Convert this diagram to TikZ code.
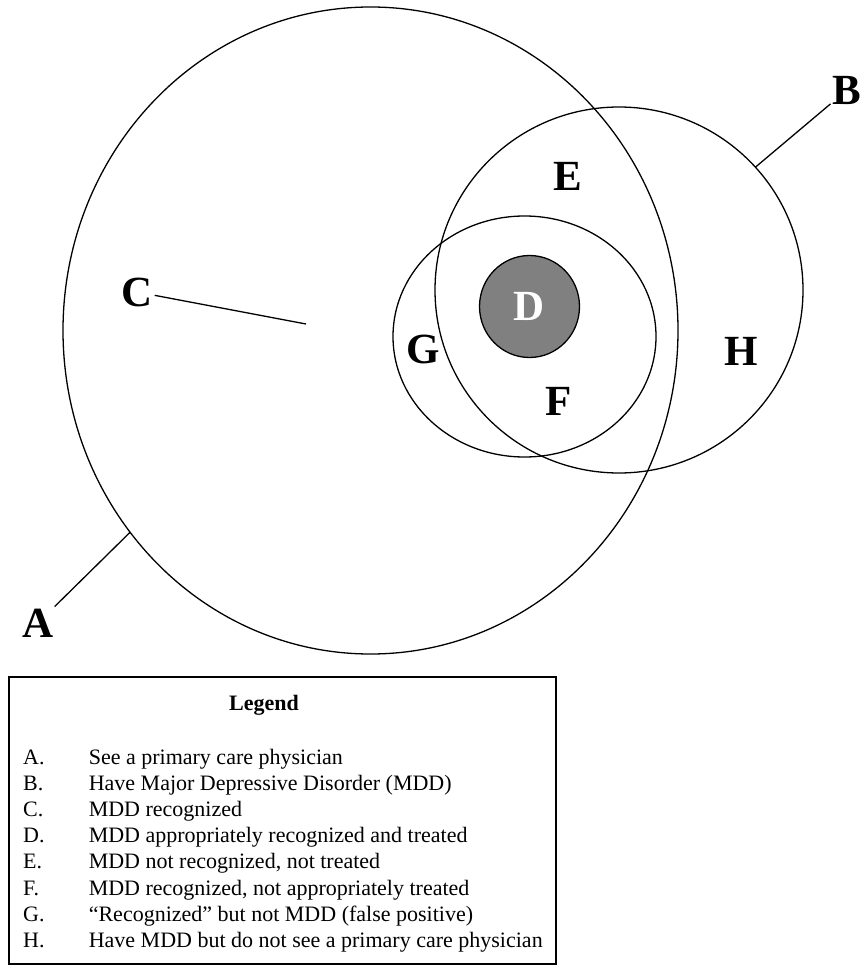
\documentclass[tikz,border=0pt]{standalone}
\usepackage{fontspec}
\setmainfont{Liberation Serif}
\usepackage{tikz}
\usetikzlibrary{positioning}
\usetikzlibrary{shapes.geometric}
\definecolor{dfill}{gray}{0.5}
\tikzset{ring/.style={draw, ellipse, line width=1.3pt, inner sep=0pt, outer sep=0pt}}
\tikzset{region/.style={font=\fontsize{43}{43}\selectfont\bfseries, inner sep=2pt}}
\tikzset{lead/.style={line width=1.3pt}}
\tikzset{entry/.style={font=\fontsize{22}{26}\selectfont, anchor=base west, inner sep=0pt}}

\begin{document}
\begin{tikzpicture}[x=1pt,y=-1pt]
\useasboundingbox (0,0) rectangle (860,965);
\node[ring, fill=dfill, minimum width=100pt, minimum height=102pt, text=white] (circD) at (529.5,306.5) {};
\node[ring, minimum width=615pt, minimum height=647pt] (circA) at (370.5,330.5) {};
\node[ring, minimum width=368pt, minimum height=366pt] (circB) at (619,290) {};
\node[ring, minimum width=263pt, minimum height=241pt] (circG) at (524.5,336.5) {};
\node[region, text=white] (labD) at (circD) {D};
\node[region] (labA) at (38,623) {A};
\node[region] (labB) at (847,90) {B};
\node[region] (labC) at (137,292) {C};
\node[region] (labE) at (568,176) {E};
\node[region] (labF) at (559,401) {F};
\node[region] (labG) at (423,349) {G};
\node[region] (labH) at (741,351) {H};
\coordinate (cEnd) at (306,324);
\draw[lead] (labA) -- (circA.220);
\draw[lead] (labB) -- (circB.42);
\draw[lead] (labC) -- (cEnd);
% legend
\draw[line width=1.2pt] (9,677) rectangle (556,964);
\node[font=\fontsize{22}{26}\selectfont\bfseries, anchor=base] (legend) at (264,710) {Legend};
\foreach \l/\t [count=\i from 0] in {A/See a primary care physician,
  B/Have Major Depressive Disorder (MDD),
  C/MDD recognized,
  D/MDD appropriately recognized and treated,
  E/{MDD not recognized, not treated},
  F/{MDD recognized, not appropriately treated},
  G/{``Recognized'' but not MDD (false positive)},
  H/Have MDD but do not see a primary care physician} {
\node[entry] (key\l) at (23,764+26.2*\i) {\l.};
\node[entry] (txt\l) at (88.6,764+26.2*\i) {\t};
}
\end{tikzpicture}
\end{document}
